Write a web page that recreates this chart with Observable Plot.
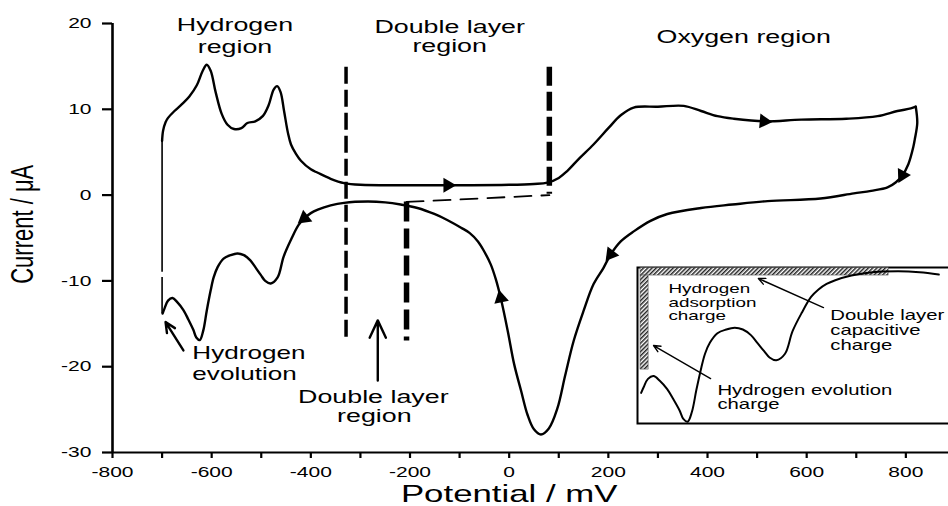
<!DOCTYPE html>
<html>
<head>
<meta charset="utf-8">
<title>Cyclic voltammogram</title>
<script src="https://cdn.jsdelivr.net/npm/d3@7"></script>
<script src="https://cdn.jsdelivr.net/npm/@observablehq/plot@0.6"></script>
<style>
  html, body { margin: 0; padding: 0; background: #fff; overflow: hidden; }
  #figure { position: relative; width: 948px; height: 506px; overflow: hidden; }
  #figure > svg { position: absolute; left: 0; top: 0; }
  #figure > svg.inset { left: 636px; top: 266px; }
</style>
</head>
<body>
<div id="figure"></div>
<script>
const FONT = "'Liberation Sans', Arial, Helvetica, sans-serif";
// the figure's lettering is set wide
const TEXT_STRETCH = 1.45;

// axes
const potentialDomain = [-800, 886];
const currentDomain = [-30, 20];
const potentialTicks = d3.range(-800, 801, 100);
const currentTicks = [-30, -20, -10, 0, 10, 20];
const xLabel = "Potential / mV";
const yLabel = "Current / μA";

// positive-going sweep: [potential mV, current μA]
const anodic = [
  [-700, 6.3], [-698, 7.5], [-693, 8.5], [-688, 9.0], [-675, 9.8], [-660, 10.6],
  [-645, 11.5], [-630, 12.8], [-618, 14.5], [-610, 15.2], [-602, 14.5], [-592, 12.0],
  [-580, 9.5], [-568, 8.2], [-555, 7.7], [-540, 7.8], [-528, 8.4], [-512, 8.6],
  [-497, 9.2], [-485, 10.5], [-475, 12.3], [-468, 12.7], [-461, 12.0], [-454, 9.8],
  [-446, 7.2], [-440, 5.9], [-430, 4.8], [-420, 4.0], [-400, 3.0], [-386, 2.6],
  [-360, 1.9], [-333, 1.4], [-300, 1.2], [-200, 1.15], [-100, 1.15], [0, 1.2],
  [50, 1.3], [77, 1.45], [100, 2.0], [117, 2.8], [140, 4.2], [170, 5.9],
  [200, 7.8], [225, 9.3], [251, 10.2], [300, 10.3], [352, 10.4], [387, 9.8],
  [420, 9.2], [453, 8.9], [514, 8.6], [589, 8.8], [680, 8.9], [743, 9.2],
  [783, 9.8], [810, 10.1], [820, 10.3]
];

// negative-going sweep: [potential mV, current μA]
const cathodic = [
  [820, 10.3], [823, 8.4], [818, 6.5], [815, 5.6], [805, 3.6], [793, 2.3],
  [780, 1.5], [763, 0.9], [730, 0.5], [695, 0.2], [628, -0.4], [521, -0.7],
  [450, -1.1], [387, -1.5], [319, -2.2], [285, -3.0], [252, -4.2], [225, -5.4],
  [205, -6.9], [190, -8.5], [170, -10.4], [150, -13.5], [130, -17.0], [113, -21.0],
  [97, -24.9], [80, -27.2], [64, -27.9], [50, -27.3], [37, -25.6], [24, -22.8],
  [10, -19.7], [-3, -15.8], [-17, -12.0], [-27, -9.8], [-37, -8.1], [-50, -6.6],
  [-63, -5.4], [-80, -4.4], [-97, -3.8], [-125, -2.9], [-151, -2.2], [-185, -1.5],
  [-219, -1.1], [-250, -0.85], [-285, -0.75], [-333, -0.9], [-360, -1.2], [-386, -1.7],
  [-400, -2.1], [-413, -2.7], [-425, -3.5], [-440, -5.2], [-455, -7.2], [-467, -9.6],
  [-481, -10.3], [-492, -10.0], [-501, -9.3], [-512, -8.4], [-522, -7.6], [-535, -7.0],
  [-548, -6.8], [-562, -7.0], [-576, -7.4], [-588, -8.4], [-596, -9.6], [-602, -11.1],
  [-610, -13.5], [-617, -15.8], [-624, -16.9], [-631, -16.6], [-637, -15.7], [-647, -14.5],
  [-657, -13.4], [-669, -12.5], [-679, -12.0], [-688, -12.3], [-695, -13.2], [-699, -13.8]
];

// return at the negative limit: [potential, from current, to current]
const returnLine = [[-700, -13.8, -9.6], [-700, -9.0, 6.3]];

// sweep-direction markers: which sweep, at what potential
const flowMarkers = [
  ["anodic", -124], ["anodic", 514], ["cathodic", 793],
  ["cathodic", 205], ["cathodic", -17], ["cathodic", -413]
];

// region boundaries: [potential, top current, bottom current]
const hydrogenEdge = [[-329, 14.9, -17.0]];
const oxygenEdge = [[81, 14.9, 0.1]];
const cathodicEdge = [[-207, -0.8, -17.0]];
// double-layer baseline: [potential, current] end points
const doubleLayerBaseline = [[-207, -0.8], [81, 0.0]];

// region titles: [text, potential, current]
const regionTitles = [
  ["Hydrogen", -553, 19.8], ["region", -553, 17.3],
  ["Double layer", -120, 19.6], ["region", -120, 17.4],
  ["Oxygen region", 473, 18.4],
  ["Double layer", -274, -23.5], ["region", -272, -25.8]
];
const evolutionNote = [["Hydrogen", -639, -18.45], ["evolution", -639, -20.85]];
// pointers: [from potential, from current, to potential, to current]
const pointers = [[-657, -18.1, -693, -14.8], [-265, -21.6, -265, -14.6]];

// inset (hydrogen region of the negative-going sweep)
const insetPotential = [-706.5, -190.5];
const insetCurrent = [-17.2, -0.23];
// hatched charge bands: [x1, x2, y1, y2]
const chargeBands = [[-700, -300, -1.2, -0.4], [-700, -687, -11.3, -1.2]];
const insetNotesSmall = [
  ["Hydrogen", -655, -2.6], ["adsorption", -655, -4.1], ["charge", -655, -5.5]
];
const insetNotes = [
  ["Double layer", -394, -5.5], ["capacitive", -394, -7.1], ["charge", -394, -8.7],
  ["Hydrogen evolution", -576, -13.56], ["charge", -576, -15.1]
];
const insetPointers = [[-405, -4.64, -510, -1.52], [-587, -12.27, -679, -8.72]];

const sweeps = {anodic, cathodic};
const xs = Plot.scale({x: {domain: potentialDomain, range: [112, 948]}});
const ys = Plot.scale({y: {domain: currentDomain, range: [452, 23]}});

// place each direction marker on its sweep, oriented along the trace
const arrowheads = flowMarkers.map(([name, v]) => {
  const pts = sweeps[name];
  for (let k = 0; k < pts.length - 1; k++) {
    const [v0, i0] = pts[k], [v1, i1] = pts[k + 1];
    if (v0 !== v1 && (v - v0) * (v - v1) <= 0) {
      const t = (v - v0) / (v1 - v0);
      const dx = xs.apply(v1) - xs.apply(v0);
      const dy = ys.apply(i1) - ys.apply(i0);
      return {v, i: i0 + t * (i1 - i0), angle: Math.atan2(dy, dx) * 180 / Math.PI + 90};
    }
  }
});

const px = d => d[0], py = d => d[1];

const main = Plot.plot({
  width: 948,
  height: 506,
  marginLeft: 112,
  marginRight: 0,
  marginTop: 23,
  marginBottom: 54,
  style: {fontFamily: FONT, fontSize: "14.5px", color: "black", background: "white", overflow: "visible"},
  x: {domain: potentialDomain, ticks: potentialTicks, tickFormat: d => (d % 200 === 0 ? `${d}` : ""), tickSize: 6, tickPadding: 8, label: null},
  y: {domain: currentDomain, ticks: currentTicks, tickFormat: d => `${d}`, tickSize: 10, tickPadding: 11, label: null},
  marks: [
    Plot.ruleY([currentDomain[0]], {stroke: "black", strokeWidth: 2}),
    Plot.ruleX([potentialDomain[0]], {y1: currentDomain[0], y2: currentDomain[1], stroke: "black", strokeWidth: 2.6}),

    // region boundaries
    Plot.ruleX(hydrogenEdge, {x: d => d[0], y1: d => d[1], y2: d => d[2], stroke: "black", strokeWidth: 3.5, strokeDasharray: "17,6"}),
    Plot.ruleX(oxygenEdge, {x: d => d[0], y1: d => d[1], y2: d => d[2], stroke: "black", strokeWidth: 5.5, strokeDasharray: "19,6"}),
    Plot.ruleX(cathodicEdge, {x: d => d[0], y1: d => d[1], y2: d => d[2], stroke: "black", strokeWidth: 5.5, strokeDasharray: "20,7"}),
    Plot.line(doubleLayerBaseline, {x: px, y: py, stroke: "black", strokeWidth: 1.8, strokeDasharray: "17,10"}),

    // voltammogram
    Plot.ruleX(returnLine, {x: d => d[0], y1: d => d[1], y2: d => d[2], stroke: "black", strokeWidth: 1.6}),
    Plot.line(anodic, {x: px, y: py, stroke: "black", strokeWidth: 2.4, curve: "catmull-rom"}),
    Plot.line(cathodic, {x: px, y: py, stroke: "black", strokeWidth: 2.4, curve: "catmull-rom"}),
    Plot.dot(arrowheads, {x: "v", y: "i", rotate: "angle", symbol: "triangle", r: 5.5, fill: "black", stroke: "none"}),

    // annotations
    Plot.arrow(pointers, {x1: d => d[0], y1: d => d[1], x2: d => d[2], y2: d => d[3], stroke: "black", strokeWidth: 2.4, headLength: 12, headAngle: 50}),
    Plot.text(regionTitles, {x: d => d[1], y: d => d[2], text: d => d[0], fontSize: 18.5, fill: "black"}),
    Plot.text(evolutionNote, {x: d => d[1], y: d => d[2], text: d => d[0], fontSize: 18, textAnchor: "start", fill: "black"}),

    // axis titles
    Plot.text([xLabel], {x: [0], text: d => d, frameAnchor: "bottom", dy: 42, textAnchor: "middle", lineAnchor: "middle", fontSize: 24, fill: "black"}),
    Plot.text([yLabel], {y: [-3.4], text: d => d, frameAnchor: "left", dx: -90, rotate: -90, textAnchor: "middle", lineAnchor: "middle", fontSize: 22, fill: "black"})
  ]
});

const inset = Plot.plot({
  width: 320,
  height: 158,
  margin: 0,
  style: {fontFamily: FONT, color: "black", background: "transparent", overflow: "visible"},
  x: {domain: insetPotential, axis: null},
  y: {domain: insetCurrent, axis: null},
  marks: [
    Plot.frame({fill: "white", stroke: "black", strokeWidth: 2, inset: 1}),
    Plot.rect(chargeBands, {x1: d => d[0], x2: d => d[1], y1: d => d[2], y2: d => d[3], fill: "url(#hatch)", stroke: "#555", strokeWidth: 0.6}),
    Plot.line(cathodic.filter(d => d[0] <= -190), {x: px, y: py, stroke: "black", strokeWidth: 2, curve: "catmull-rom"}),
    Plot.arrow(insetPointers, {x1: d => d[0], y1: d => d[1], x2: d => d[2], y2: d => d[3], stroke: "black", strokeWidth: 1.4, headLength: 8, headAngle: 50}),
    Plot.text(insetNotesSmall, {x: d => d[1], y: d => d[2], text: d => d[0], fontSize: 13, textAnchor: "start", fill: "black"}),
    Plot.text(insetNotes, {x: d => d[1], y: d => d[2], text: d => d[0], fontSize: 14, textAnchor: "start", fill: "black"})
  ]
});
inset.classList.add("inset");
d3.select(inset).insert("defs", ":first-child").html(
  `<pattern id="hatch" width="3" height="3" patternUnits="userSpaceOnUse" patternTransform="rotate(45)">` +
  `<rect width="3" height="3" fill="#fff"/><line x1="0.75" y1="0" x2="0.75" y2="3" stroke="#222" stroke-width="1.5"/></pattern>`
);

// heavier tick marks
for (const svg of [main]) {
  d3.select(svg).selectAll('[aria-label="x-axis tick"], [aria-label="y-axis tick"]').attr("stroke-width", 2.2);
  d3.select(svg).selectAll(".tick line").attr("stroke-width", 2.2);
}

// widen the lettering about each label's anchor
for (const svg of [main, inset]) {
  svg.querySelectorAll("text").forEach(t => {
    const tr = t.getAttribute("transform") || "";
    t.setAttribute("transform", tr.includes("rotate")
      ? tr.replace("rotate", `scale(${TEXT_STRETCH},1) rotate`)
      : `${tr} scale(${TEXT_STRETCH},1)`);
  });
}

const figure = document.getElementById("figure");
figure.append(main, inset);
</script>
</body>
</html>
